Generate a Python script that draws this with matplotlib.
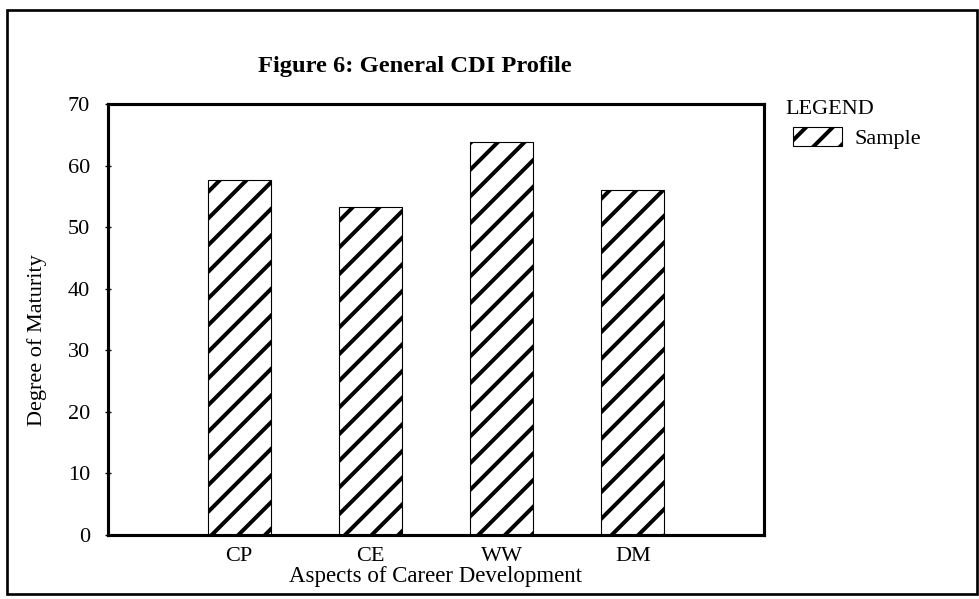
import matplotlib
matplotlib.use("Agg")
import matplotlib.pyplot as plt
from matplotlib.patches import Rectangle

# values
aspects = ["CP", "CE", "WW", "DM"]
maturity = [57.7, 53.3, 63.9, 56.0]
y_ticks = [0, 10, 20, 30, 40, 50, 60, 70]

plt.rcParams["font.family"] = ["Liberation Serif", "DejaVu Serif"]
plt.rcParams["hatch.linewidth"] = 1.8
plt.rcParams["hatch.color"] = "black"

# dpi 160 so the hatch stripes come out as wide as in the scan
fig = plt.figure(figsize=(979 / 160, 599 / 160), dpi=160)
ax = fig.add_axes([0.1103, 0.1068, 0.6701, 0.7196])

positions = list(range(1, len(aspects) + 1))
bars = ax.bar(positions, maturity, width=0.48, color="white",
              edgecolor="black", linewidth=0.5, hatch="//", label="Sample")

ax.set_xlim(0, 5)
ax.set_ylim(0, 70)
ax.set_yticks(y_ticks)
ax.set_xticks(positions)
ax.set_xticklabels(aspects)

for side in ["left", "bottom", "top", "right"]:
    ax.spines[side].set_linewidth(1.4)
    ax.spines[side].set_color("black")

ax.tick_params(axis="y", direction="inout", length=3, width=0.6,
               labelsize=10, pad=6.5)
ax.tick_params(axis="x", length=0, labelsize=10, pad=5.5)

ax.set_ylabel("Degree of Maturity", fontsize=10, va="center")
ax.yaxis.set_label_coords(-0.108, 0.452)
ax.set_xlabel("Aspects of Career Development", fontsize=10.3, va="center")
ax.xaxis.set_label_coords(0.5, -0.097)

fig.text(0.424, 0.889, "Figure 6: General CDI Profile", fontsize=11,
         fontweight="bold", ha="center", va="center")

# legend: heading set a bit left of the swatch
fig.text(0.802, 0.8164, "LEGEND", fontsize=10, ha="left", va="center")
fig.legend(handles=[bars], labels=["Sample"],
           loc="center left", bbox_to_anchor=(0.810, 0.7696),
           frameon=False, fontsize=10,
           handlelength=2.2, handleheight=0.9, handletextpad=0.55,
           borderaxespad=0, borderpad=0)

# frame around the whole figure, as in the scan
fig.patches.append(Rectangle((0.007, 0.008), 0.991, 0.975, fill=False,
                             edgecolor="black", linewidth=1.2,
                             transform=fig.transFigure, figure=fig))

fig.savefig("out.png", dpi=160)
